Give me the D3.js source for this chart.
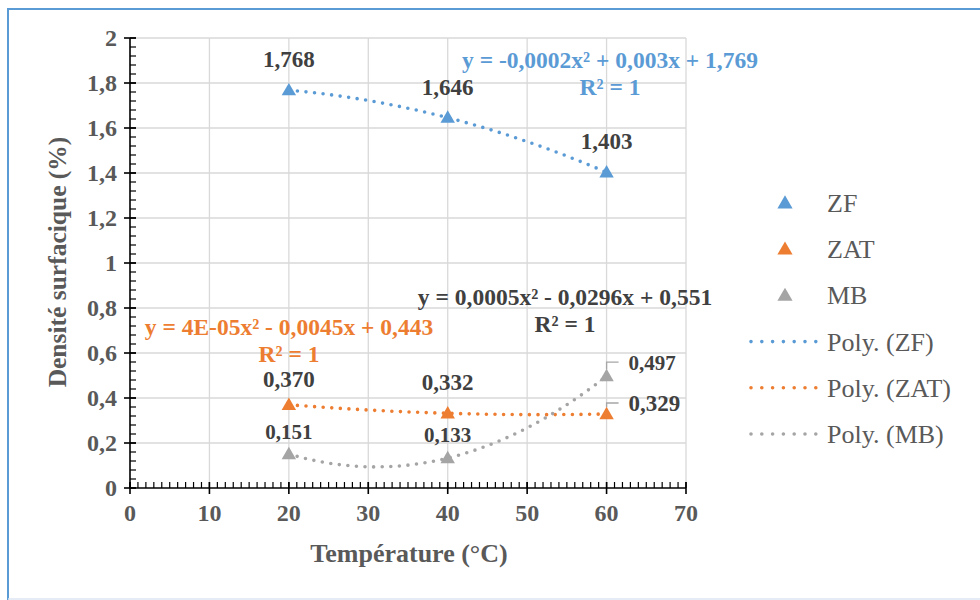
<!DOCTYPE html>
<html>
<head>
<meta charset="utf-8">
<script src="https://cdn.jsdelivr.net/npm/d3@7"></script>
<style>
  html, body { margin: 0; padding: 0; background: #fff; }
  svg { display: block; }
</style>
</head>
<body>
<svg id="chart" width="980" height="600" font-family="'Liberation Serif', Tinos, 'Times New Roman', 'DejaVu Serif', serif"></svg>
<script>
// Température (°C)
const temperatures = [20, 40, 60];
// Densité surfacique (%) per zone
const seriesNames = ["ZF", "ZAT", "MB"];
const zfValues  = [1.768, 1.646, 1.403];
const zatValues = [0.370, 0.332, 0.329];
const mbValues  = [0.151, 0.133, 0.497];
const seriesColors = ["#5B9BD5", "#ED7D31", "#A5A5A5"];
const xTicks = [0, 10, 20, 30, 40, 50, 60, 70];
const yTicks = [0, 0.2, 0.4, 0.6, 0.8, 1, 1.2, 1.4, 1.6, 1.8, 2];
const equations = [
  "y = -0,0002x² + 0,003x + 1,769",
  "y = 4E-05x² - 0,0045x + 0,443",
  "y = 0,0005x² - 0,0296x + 0,551"
];

const series = [zfValues, zatValues, mbValues].map((vals, i) => ({
  name: seriesNames[i],
  color: seriesColors[i],
  points: temperatures.map((t, j) => ({ x: t, y: vals[j] }))
}));

const svg = d3.select("#chart");
const fmt = v => d3.format(".3f")(v).replace(".", ",");
const tickFmt = v => String(+v.toFixed(1)).replace(".", ",");

// Chart frame
svg.append("line").attr("x1", 8).attr("y1", 9).attr("x2", 8).attr("y2", 600)
  .attr("stroke", "#5B9BD5").attr("stroke-width", 2);
svg.append("line").attr("x1", 7).attr("y1", 9).attr("x2", 980).attr("y2", 9)
  .attr("stroke", "#5B9BD5").attr("stroke-width", 2);
svg.append("line").attr("x1", 8).attr("y1", 599).attr("x2", 980).attr("y2", 599)
  .attr("stroke", "#DCE6F2").attr("stroke-width", 1.5);

const x = d3.scaleLinear().domain([0, 70]).range([130, 686]);
const y = d3.scaleLinear().domain([0, 2]).range([488, 38]);

// Gridlines
const grid = svg.append("g");
grid.selectAll("line.v").data(xTicks.slice(1)).join("line")
  .attr("x1", d => x(d)).attr("x2", d => x(d))
  .attr("y1", y(0)).attr("y2", y(2))
  .attr("stroke", "#D9D9D9").attr("stroke-width", 1.3);
grid.selectAll("line.h").data(yTicks.slice(1)).join("line")
  .attr("x1", x(0)).attr("x2", x(70))
  .attr("y1", d => y(d)).attr("y2", d => y(d))
  .attr("stroke", "#D9D9D9").attr("stroke-width", 1.3);

// Axes: major ticks cross the axis, minor ticks point inward
const axisCol = "#000";
const xMinor = d3.range(0, 70.001, 1);
const yMinor = d3.range(0, 2.0001, 0.04);
const ax = svg.append("g");
ax.selectAll("line.xm").data(xMinor).join("line")
  .attr("x1", d => x(d)).attr("x2", d => x(d))
  .attr("y1", y(0)).attr("y2", y(0) - 6)
  .attr("stroke", axisCol).attr("stroke-width", 1.2);
ax.selectAll("line.xM").data(xTicks).join("line")
  .attr("x1", d => x(d)).attr("x2", d => x(d))
  .attr("y1", y(0) - 6).attr("y2", y(0) + 6)
  .attr("stroke", axisCol).attr("stroke-width", 1.6);
ax.selectAll("line.ym").data(yMinor).join("line")
  .attr("x1", x(0)).attr("x2", x(0) + 6)
  .attr("y1", d => y(d)).attr("y2", d => y(d))
  .attr("stroke", axisCol).attr("stroke-width", 1.2);
ax.selectAll("line.yM").data(yTicks).join("line")
  .attr("x1", x(0) - 6).attr("x2", x(0) + 6)
  .attr("y1", d => y(d)).attr("y2", d => y(d))
  .attr("stroke", axisCol).attr("stroke-width", 1.6);
ax.append("line").attr("x1", x(0)).attr("x2", x(70)).attr("y1", y(0)).attr("y2", y(0))
  .attr("stroke", axisCol).attr("stroke-width", 1.6);
ax.append("line").attr("x1", x(0)).attr("x2", x(0)).attr("y1", y(0)).attr("y2", y(2))
  .attr("stroke", axisCol).attr("stroke-width", 1.6);

// Tick labels
ax.selectAll("text.xl").data(xTicks).join("text")
  .attr("x", d => x(d)).attr("y", y(0) + 33)
  .attr("text-anchor", "middle")
  .attr("font-size", 24).attr("font-weight", "bold").attr("fill", "#595959")
  .text(d => d);
ax.selectAll("text.yl").data(yTicks).join("text")
  .attr("x", x(0) - 13).attr("y", d => y(d) + 8)
  .attr("text-anchor", "end")
  .attr("font-size", 24).attr("font-weight", "bold").attr("fill", "#595959")
  .text(d => tickFmt(d));

// Axis titles
svg.append("text").attr("x", 409).attr("y", 562)
  .attr("text-anchor", "middle").attr("font-size", 26).attr("font-weight", "bold")
  .attr("fill", "#595959").text("Température (°C)");
svg.append("text").attr("transform", "translate(66,262) rotate(-90)")
  .attr("text-anchor", "middle").attr("font-size", 25.5).attr("font-weight", "bold")
  .attr("fill", "#595959").text("Densité surfacique (%)");

// Polynomial (order 2) trendline through each series
function quadFit(pts) {
  const [p0, p1, p2] = pts;
  return t =>
    p0.y * ((t - p1.x) * (t - p2.x)) / ((p0.x - p1.x) * (p0.x - p2.x)) +
    p1.y * ((t - p0.x) * (t - p2.x)) / ((p1.x - p0.x) * (p1.x - p2.x)) +
    p2.y * ((t - p0.x) * (t - p1.x)) / ((p2.x - p0.x) * (p2.x - p1.x));
}
const line = d3.line().x(d => x(d.x)).y(d => y(d.y)).curve(d3.curveLinear);
const trend = svg.append("g");
series.forEach(s => {
  const f = quadFit(s.points);
  const xs = d3.range(temperatures[0], temperatures[2] + 0.001, 0.25);
  trend.append("path")
    .attr("d", line(xs.map(t => ({ x: t, y: f(t) }))))
    .attr("fill", "none").attr("stroke", s.color)
    .attr("stroke-width", 3.6).attr("stroke-linecap", "round")
    .attr("stroke-dasharray", "0 8.6");
});

// Markers
const tri = d3.symbol(d3.symbolTriangle, 90);
const marks = svg.append("g");
series.forEach(s => {
  marks.selectAll(null).data(s.points).join("path")
    .attr("d", tri)
    .attr("transform", d => `translate(${x(d.x)},${y(d.y) + 1})`)
    .attr("fill", s.color);
});

// Data labels (dx, dy offsets from each point; "leader" draws a callout line)
const labelLayout = [
  [{ dx: 0, dy: -23 }, { dx: 0, dy: -23 }, { dx: 0, dy: -23 }],
  [{ dx: 0, dy: -18 }, { dx: 0, dy: -23 }, { dx: 22, dy: -4, leader: true }],
  [{ dx: 0, dy: -15 }, { dx: 0, dy: -16 }, { dx: 22, dy: -7, leader: true }]
];
const labelSize = [23, 23, 21];
const labels = svg.append("g");
series.forEach((s, i) => {
  s.points.forEach((p, j) => {
    const L = labelLayout[i][j];
    const px = x(p.x), py = y(p.y);
    if (L.leader) {
      const ly = py + L.dy - 7;
      labels.append("path")
        .attr("d", `M${px},${py - 7}V${ly}H${px + 12}`)
        .attr("fill", "none").attr("stroke", "#A6A6A6").attr("stroke-width", 1.3);
      labels.append("text").attr("x", px + L.dx).attr("y", ly + 8)
        .attr("text-anchor", "start")
        .attr("font-size", labelSize[i]).attr("font-weight", "bold").attr("fill", "#404040")
        .text(fmt(p.y));
    } else {
      labels.append("text").attr("x", px + L.dx).attr("y", py + L.dy)
        .attr("text-anchor", "middle")
        .attr("font-size", labelSize[i]).attr("font-weight", "bold").attr("fill", "#404040")
        .text(fmt(p.y));
    }
  });
});

// Trendline equations
const eqLayout = [
  { x: 610, y: 68, color: "#5B9BD5" },
  { x: 289, y: 335, color: "#ED7D31" },
  { x: 565, y: 305, color: "#404040" }
];
const eqG = svg.append("g");
equations.forEach((eq, i) => {
  const E = eqLayout[i];
  const t = eqG.append("text").attr("x", E.x).attr("y", E.y)
    .attr("text-anchor", "middle").attr("font-size", 23.5).attr("font-weight", "bold")
    .attr("fill", E.color);
  t.append("tspan").attr("x", E.x).text(eq);
  t.append("tspan").attr("x", E.x).attr("dy", 27).text("R² = 1");
});

// Legend
const legendItems = seriesNames.map((n, i) => ({ label: n, color: seriesColors[i], kind: "marker" }))
  .concat(seriesNames.map((n, i) => ({ label: `Poly. (${n})`, color: seriesColors[i], kind: "line" })));
const lg = svg.append("g");
legendItems.forEach((d, i) => {
  const cy = 203 + i * 46.2;
  if (d.kind === "marker") {
    lg.append("path").attr("d", d3.symbol(d3.symbolTriangle, 100))
      .attr("transform", `translate(785,${cy + 1})`).attr("fill", d.color);
  } else {
    lg.append("line").attr("x1", 751).attr("x2", 816).attr("y1", cy).attr("y2", cy)
      .attr("stroke", d.color).attr("stroke-width", 3.6)
      .attr("stroke-linecap", "round").attr("stroke-dasharray", "0 10.8");
  }
  lg.append("text").attr("x", 827).attr("y", cy + 9)
    .attr("font-size", 26).attr("fill", "#595959").text(d.label);
});
</script>
</body>
</html>
